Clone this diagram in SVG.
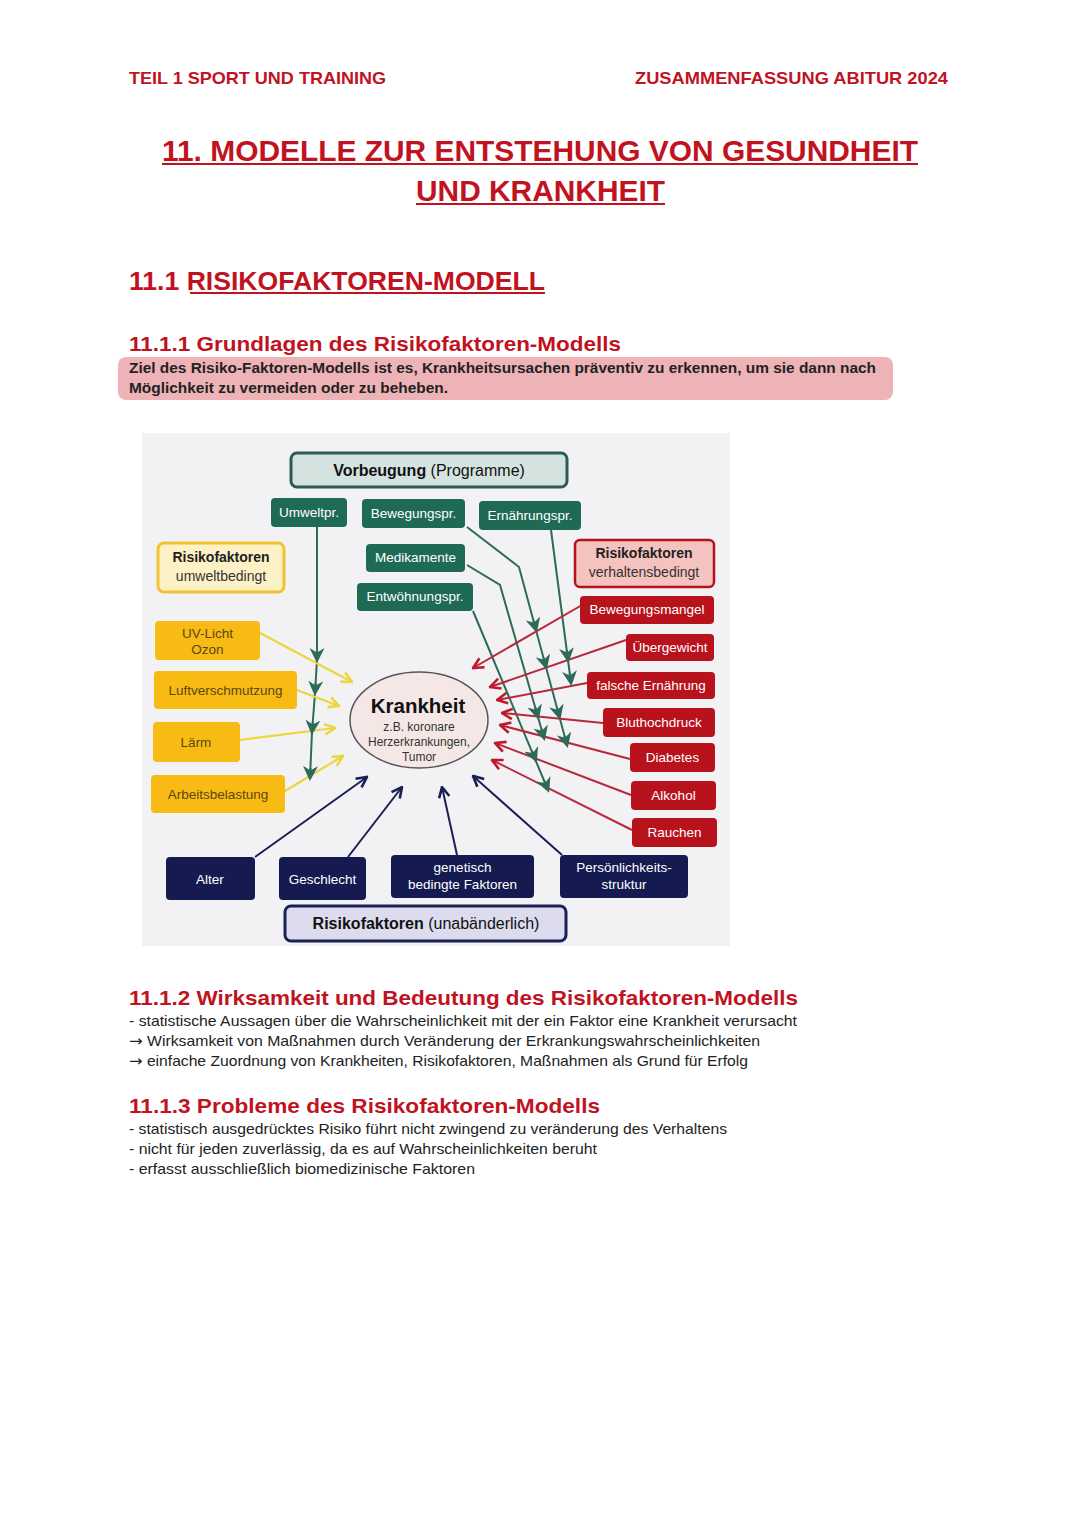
<svg xmlns="http://www.w3.org/2000/svg" xmlns:xlink="http://www.w3.org/1999/xlink" width="1080" height="1527" viewBox="0 0 1080 1527">
<style>
.hd{font-family:"Liberation Sans",Arial,sans-serif;font-weight:bold;fill:#c1121f}
.body{font-family:"Liberation Sans",Arial,sans-serif;font-size:14.5px;fill:#222}
.arr{font-family:"DejaVu Sans",sans-serif;font-size:15px}
.d{font-family:"Liberation Sans",Arial,sans-serif;text-anchor:middle}
.wt{fill:#ffffff;font-size:13.5px}
.yt{fill:#5a4612;font-size:13.5px}
.grn{fill:#1e6a55}
.red{fill:#b8121d}
.yel{fill:#f8bb14}
.nav{fill:#151a50}
.gl{stroke:#2d6b58;stroke-width:2;fill:none}
.yl{stroke:#ecd53e;stroke-width:2.2;fill:none;marker-end:url(#ay)}
.rl{stroke:#b8283a;stroke-width:2;fill:none;marker-end:url(#ar)}
.nl{stroke:#1a1f55;stroke-width:2;fill:none;marker-end:url(#an)}
.gh{stroke:#2d6b58;stroke-width:2;fill:none;marker-end:url(#ag)}
</style>
<defs>
<marker id="ay" viewBox="0 0 10 10" refX="9" refY="5" markerUnits="userSpaceOnUse" markerWidth="13" markerHeight="13" orient="auto"><path d="M1,1 L9,5 L1,9" fill="none" stroke="#ecd53e" stroke-width="2"/></marker>
<marker id="ar" viewBox="0 0 10 10" refX="9" refY="5" markerUnits="userSpaceOnUse" markerWidth="13" markerHeight="13" orient="auto"><path d="M1,1 L9,5 L1,9" fill="none" stroke="#c0182a" stroke-width="2"/></marker>
<marker id="an" viewBox="0 0 10 10" refX="9" refY="5" markerUnits="userSpaceOnUse" markerWidth="13" markerHeight="13" orient="auto"><path d="M1,1 L9,5 L1,9" fill="none" stroke="#1a1f55" stroke-width="2"/></marker>
<marker id="ag" viewBox="0 0 10 10" refX="8" refY="5" markerUnits="userSpaceOnUse" markerWidth="15" markerHeight="15" orient="auto"><path d="M0,0 L10,5 L0,10 L3,5 z" fill="#2d6b58"/></marker>
</defs>

<rect x="0" y="0" width="1080" height="1527" fill="#ffffff"/>

<!-- page header -->
<g id="header">
<text class="hd" x="129" y="84" font-size="17" textLength="257" lengthAdjust="spacingAndGlyphs">TEIL 1 SPORT UND TRAINING</text>
<text class="hd" x="635" y="84" font-size="17" textLength="313" lengthAdjust="spacingAndGlyphs">ZUSAMMENFASSUNG ABITUR 2024</text>
</g>
<g id="title">
<text class="hd" x="162" y="161" font-size="30" textLength="756" lengthAdjust="spacingAndGlyphs">11. MODELLE ZUR ENTSTEHUNG VON GESUNDHEIT</text>
<line x1="162" y1="164" x2="918" y2="164" stroke="#c1121f" stroke-width="2"/>
<text class="hd" x="416" y="201" font-size="30" textLength="249" lengthAdjust="spacingAndGlyphs">UND KRANKHEIT</text>
<line x1="416" y1="204" x2="665" y2="204" stroke="#c1121f" stroke-width="2"/>
</g>
<g id="sec11">
<text class="hd" x="129" y="290" font-size="26" textLength="416" lengthAdjust="spacingAndGlyphs">11.1 RISIKOFAKTOREN-MODELL</text>
<line x1="190" y1="293" x2="545" y2="293" stroke="#c1121f" stroke-width="2"/>
</g>
<g id="sec111">
<text class="hd" x="129" y="351" font-size="21" textLength="492" lengthAdjust="spacingAndGlyphs">11.1.1 Grundlagen des Risikofaktoren-Modells</text>
<rect x="118" y="357" width="775" height="43" rx="8" fill="#eeb3b6"/>
<text class="body" x="129" y="373" font-weight="bold" font-size="14" fill="#2a2a2a" textLength="747" lengthAdjust="spacingAndGlyphs">Ziel des Risiko-Faktoren-Modells ist es, Krankheitsursachen präventiv zu erkennen, um sie dann nach</text>
<text class="body" x="129" y="393" font-weight="bold" font-size="14" fill="#2a2a2a" textLength="319" lengthAdjust="spacingAndGlyphs">Möglichkeit zu vermeiden oder zu beheben.</text>
</g>

<!-- diagram background -->
<rect x="142" y="433" width="588" height="513" fill="#f2f2f4"/>

<!-- connectors -->
<g id="connectors">
<polyline class="gl" points="317,527 317,660 315,693 312,732 310,778"/>
<polyline class="gl" points="467,527 519,567 567,745"/>
<polyline class="gl" points="467,565 500,585 544,738"/>
<polyline class="gl" points="473,611 548,790"/>
<polyline class="gl" points="551,530 571,683"/>
<line class="yl" x1="260" y1="633" x2="352" y2="682"/>
<line class="yl" x1="297" y1="690" x2="339" y2="706"/>
<line class="yl" x1="240" y1="740" x2="335" y2="728"/>
<line class="yl" x1="285" y1="791" x2="343" y2="756"/>
<line class="rl" x1="582" y1="605" x2="473" y2="668"/>
<line class="rl" x1="626" y1="640" x2="490" y2="687"/>
<line class="rl" x1="587" y1="683" x2="497" y2="700"/>
<line class="rl" x1="603" y1="723" x2="502" y2="713"/>
<line class="rl" x1="630" y1="759" x2="500" y2="725"/>
<line class="rl" x1="631" y1="795" x2="495" y2="743"/>
<line class="rl" x1="632" y1="830" x2="492" y2="760"/>
<line class="nl" x1="255" y1="857" x2="367" y2="777"/>
<line class="nl" x1="348" y1="857" x2="402" y2="787"/>
<line class="nl" x1="457" y1="855" x2="442" y2="787"/>
<line class="nl" x1="562" y1="855" x2="473" y2="776"/>
<path class="gh" d="M317,650 L317,660"/>
<path class="gh" d="M315.6,683 L315,693"/>
<path class="gh" d="M312.8,722 L312,732"/>
<path class="gh" d="M310.4,768 L310,778"/>
<path class="gh" d="M533.4,620.4 L536,630"/>
<path class="gh" d="M543.4,657.4 L546,667"/>
<path class="gh" d="M556.9,707.4 L559.5,717"/>
<path class="gh" d="M564.4,735.4 L567,745"/>
<path class="gh" d="M535.2,707.4 L538,717"/>
<path class="gh" d="M541.2,728.4 L544,738"/>
<path class="gh" d="M531.9,750.7 L535.7,760"/>
<path class="gh" d="M544.2,780.7 L548,790"/>
<path class="gh" d="M566.7,650.1 L568,660"/>
<path class="gh" d="M569.7,673.1 L571,683"/>
</g>

<!-- nodes -->
<g id="vorbeugung">
<rect x="291" y="453" width="276" height="34" rx="6" fill="#d4e3df" stroke="#2a5c4f" stroke-width="3"/>
<text class="d" x="429" y="476" font-size="16" fill="#111"><tspan font-weight="bold">Vorbeugung</tspan> (Programme)</text>
</g>
<g id="umweltpr"><rect class="grn" x="271" y="498" width="76" height="29" rx="4"/><text class="d wt" x="309" y="517">Umweltpr.</text></g>
<g id="bewegungspr"><rect class="grn" x="362" y="499" width="103" height="29" rx="4"/><text class="d wt" x="413.5" y="518">Bewegungspr.</text></g>
<g id="ernaehrungspr"><rect class="grn" x="479" y="501" width="102" height="29" rx="4"/><text class="d wt" x="530" y="520">Ernährungspr.</text></g>
<g id="medikamente"><rect class="grn" x="366" y="544" width="99" height="28" rx="4"/><text class="d wt" x="415.5" y="562">Medikamente</text></g>
<g id="entwoehnungspr"><rect class="grn" x="357" y="583" width="116" height="28" rx="4"/><text class="d wt" x="415" y="601">Entwöhnungspr.</text></g>

<g id="rf-umwelt">
<rect x="158" y="543" width="126" height="49" rx="6" fill="#fdf1c6" stroke="#f1c232" stroke-width="3"/>
<text class="d" x="221" y="562" font-size="14" font-weight="bold" fill="#222">Risikofaktoren</text>
<text class="d" x="221" y="581" font-size="14" fill="#333">umweltbedingt</text>
</g>
<g id="rf-verhalten">
<rect x="575" y="540" width="139" height="47" rx="5" fill="#f5c3bf" stroke="#b5121b" stroke-width="2.5"/>
<text class="d" x="644" y="558" font-size="14" font-weight="bold" fill="#222">Risikofaktoren</text>
<text class="d" x="644" y="577" font-size="14" fill="#333">verhaltensbedingt</text>
</g>

<g id="uv"><rect class="yel" x="155" y="621" width="105" height="39" rx="4"/><text class="d yt" x="207.5" y="638">UV-Licht</text><text class="d yt" x="207.5" y="654">Ozon</text></g>
<g id="luft"><rect class="yel" x="154" y="671" width="143" height="38" rx="4"/><text class="d yt" x="225.5" y="695">Luftverschmutzung</text></g>
<g id="laerm"><rect class="yel" x="153" y="722" width="87" height="40" rx="4"/><text class="d yt" x="196" y="747">Lärm</text></g>
<g id="arbeit"><rect class="yel" x="151" y="775" width="134" height="38" rx="4"/><text class="d yt" x="218" y="799">Arbeitsbelastung</text></g>

<g id="bewegungsmangel"><rect class="red" x="580" y="596" width="134" height="28" rx="4"/><text class="d wt" x="647" y="614">Bewegungsmangel</text></g>
<g id="uebergewicht"><rect class="red" x="626" y="634" width="88" height="27" rx="4"/><text class="d wt" x="670" y="652">Übergewicht</text></g>
<g id="ernaehrung"><rect class="red" x="587" y="672" width="128" height="27" rx="4"/><text class="d wt" x="651" y="690">falsche Ernährung</text></g>
<g id="bluthochdruck"><rect class="red" x="603" y="708" width="112" height="29" rx="4"/><text class="d wt" x="659" y="727">Bluthochdruck</text></g>
<g id="diabetes"><rect class="red" x="630" y="743" width="85" height="29" rx="4"/><text class="d wt" x="672.5" y="762">Diabetes</text></g>
<g id="alkohol"><rect class="red" x="631" y="781" width="85" height="29" rx="4"/><text class="d wt" x="673.5" y="800">Alkohol</text></g>
<g id="rauchen"><rect class="red" x="632" y="818" width="85" height="29" rx="4"/><text class="d wt" x="674.5" y="837">Rauchen</text></g>

<g id="krankheit">
<ellipse cx="419" cy="720" rx="69" ry="48" fill="#f5e7e5" stroke="#555" stroke-width="1.5"/>
<text class="d" x="418" y="713" font-size="20.5" font-weight="bold" fill="#111">Krankheit</text>
<text class="d" x="419" y="731" font-size="12" fill="#333">z.B. koronare</text>
<text class="d" x="419" y="746" font-size="12" fill="#333">Herzerkrankungen,</text>
<text class="d" x="419" y="761" font-size="12" fill="#333">Tumor</text>
</g>

<g id="alter"><rect class="nav" x="166" y="857" width="89" height="43" rx="4"/><text class="d wt" x="210" y="884">Alter</text></g>
<g id="geschlecht"><rect class="nav" x="279" y="857" width="87" height="43" rx="4"/><text class="d wt" x="322.5" y="884">Geschlecht</text></g>
<g id="genetisch"><rect class="nav" x="391" y="855" width="143" height="43" rx="4"/><text class="d wt" x="462.5" y="872">genetisch</text><text class="d wt" x="462.5" y="889">bedingte Faktoren</text></g>
<g id="persoenlichkeit"><rect class="nav" x="560" y="855" width="128" height="43" rx="4"/><text class="d wt" x="624" y="872">Persönlichkeits-</text><text class="d wt" x="624" y="889">struktur</text></g>
<g id="rf-unabaenderlich">
<rect x="285" y="906" width="281" height="35" rx="6" fill="#dcdcee" stroke="#1a1f55" stroke-width="3"/>
<text class="d" x="426" y="929" font-size="16" fill="#111"><tspan font-weight="bold">Risikofaktoren</tspan> (unabänderlich)</text>
</g>

<!-- lower sections -->
<g id="sec112">
<text class="hd" x="129" y="1005" font-size="21" textLength="669" lengthAdjust="spacingAndGlyphs">11.1.2 Wirksamkeit und Bedeutung des Risikofaktoren-Modells</text>
<text class="body" x="129" y="1026" textLength="668" lengthAdjust="spacingAndGlyphs">- statistische Aussagen über die Wahrscheinlichkeit mit der ein Faktor eine Krankheit verursacht</text>
<text class="body" x="129" y="1046" textLength="631" lengthAdjust="spacingAndGlyphs"><tspan class="arr">→</tspan> Wirksamkeit von Maßnahmen durch Veränderung der Erkrankungswahrscheinlichkeiten</text>
<text class="body" x="129" y="1066" textLength="619" lengthAdjust="spacingAndGlyphs"><tspan class="arr">→</tspan> einfache Zuordnung von Krankheiten, Risikofaktoren, Maßnahmen als Grund für Erfolg</text>
</g>
<g id="sec113">
<text class="hd" x="129" y="1113" font-size="21" textLength="471" lengthAdjust="spacingAndGlyphs">11.1.3 Probleme des Risikofaktoren-Modells</text>
<text class="body" x="129" y="1134" textLength="598" lengthAdjust="spacingAndGlyphs">- statistisch ausgedrücktes Risiko führt nicht zwingend zu veränderung des Verhaltens</text>
<text class="body" x="129" y="1154" textLength="468" lengthAdjust="spacingAndGlyphs">- nicht für jeden zuverlässig, da es auf Wahrscheinlichkeiten beruht</text>
<text class="body" x="129" y="1174" textLength="346" lengthAdjust="spacingAndGlyphs">- erfasst ausschließlich biomedizinische Faktoren</text>
</g>
</svg>
